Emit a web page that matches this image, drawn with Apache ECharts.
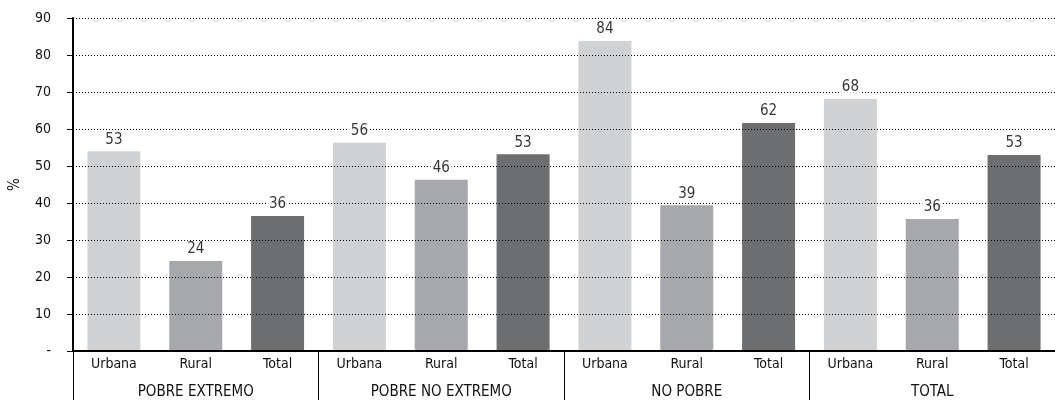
<!DOCTYPE html>
<html>
<head>
<meta charset="utf-8">
<script src="https://cdn.jsdelivr.net/npm/echarts@6/dist/echarts.min.js"></script>
<style>
  html, body { margin: 0; padding: 0; background: #fff; }
  #chart { width: 1055px; height: 400px; }
</style>
</head>
<body>
<div id="chart"></div>
<script>
const categories = ["Urbana", "Rural", "Total", "Urbana", "Rural", "Total", "Urbana", "Rural", "Total", "Urbana", "Rural", "Total"];
const groups = ["POBRE EXTREMO", "POBRE NO EXTREMO", "NO POBRE", "TOTAL"];
const values = [54.0, 24.3, 36.5, 56.3, 46.3, 53.2, 83.8, 39.4, 61.6, 68.1, 35.7, 53.0];
const labels = ["53", "24", "36", "56", "46", "53", "84", "39", "62", "68", "36", "53"];
const yTicks = ["-", "10", "20", "30", "40", "50", "60", "70", "80", "90"];
const shades = ["#d1d2d4", "#a7a8ab", "#6d6e70"];

const font = "'Liberation Sans Narrow', 'Arial Narrow', 'DejaVu Sans Condensed', sans-serif";

const chart = echarts.init(document.getElementById("chart"));
chart.setOption({
  animation: false,
  textStyle: { fontFamily: font },
  grid: { left: 73, right: 0, top: 18, bottom: 49, outerBoundsMode: "none", containLabel: false },
  xAxis: [
    {
      type: "category",
      data: categories,
      z: 3,
      axisLine: { lineStyle: { color: "#000", width: 2 } },
      axisTick: { length: 4, lineStyle: { color: "#000" } },
      axisLabel: { color: "#111", fontSize: 14, margin: 6, fontFamily: font }
    },
    {
      type: "category",
      data: groups,
      position: "bottom",
      offset: 0,
      axisLine: { show: true, lineStyle: { color: "rgba(0,0,0,0)", width: 0 } },
      axisTick: { show: true, length: 50, lineStyle: { color: "#000", width: 1 } },
      axisLabel: { color: "#111", fontSize: 15, margin: 34, fontFamily: font }
    }
  ],
  yAxis: {
    type: "value",
    min: 0,
    max: 90,
    interval: 10,
    z: 3,
    name: "%",
    nameLocation: "middle",
    nameGap: 50,
    nameTextStyle: { color: "#111", fontSize: 15, fontFamily: font },
    axisLine: { show: true, lineStyle: { color: "#000", width: 2 } },
    axisTick: { show: true, length: 6, lineStyle: { color: "#000" } },
    axisLabel: {
      color: "#111",
      fontSize: 14,
      margin: 22,
      fontFamily: font,
      formatter: function (v) { return yTicks[Math.round(v / 10)]; }
    },
    splitLine: { show: true, lineStyle: { color: "#000", width: 1, type: [1, 2] } }
  },
  series: [
    {
      type: "bar",
      z: 2,
      barWidth: 53,
      data: values.map(function (v, i) {
        return { value: v, itemStyle: { color: shades[i % 3] } };
      })
    },
    {
      type: "scatter",
      z: 4,
      symbolSize: 0,
      silent: true,
      data: values,
      label: {
        show: true,
        position: "top",
        distance: 4,
        color: "#000",
        fontSize: 15,
        fontFamily: font,
        backgroundColor: "#fff",
        padding: [0, 2],
        formatter: function (p) { return labels[p.dataIndex]; }
      }
    }
  ]
});
</script>
</body>
</html>
